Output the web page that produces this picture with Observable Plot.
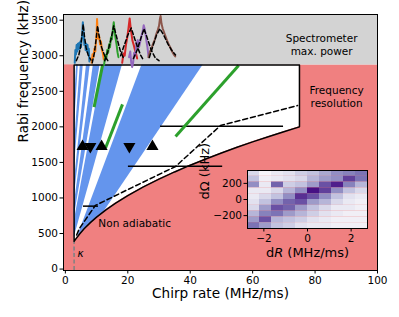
<!DOCTYPE html>
<html><head><meta charset="utf-8">
<script src="https://cdn.jsdelivr.net/npm/d3@7"></script>
<script src="https://cdn.jsdelivr.net/npm/@observablehq/plot@0.6"></script>
<style>
body{margin:0;background:#fff;}
#wrap{position:relative;width:399px;height:317px;}
#wrap svg{position:absolute;left:0;top:0;}
</style></head><body><div id="wrap"></div>
<script>
// ---- data ----
const xTicks = [0, 20, 40, 60, 80, 100];
const yTicks = [0, 500, 1000, 1500, 2000, 2500, 3000, 3500];
const xDomain = [-0.6, 100];
const yDomain = [-20, 3580];
const spectroLimit = 2870;      // spectrometer max power (kHz)
const kappa = 2.8;              // MHz/ms
const maxChirp = 75;            // frequency resolution limit

// adiabaticity boundary
const adiabR = [2.8, 3.5, 4.5, 6, 8, 10, 13, 16, 20, 25, 30, 35, 40, 45, 50, 55, 60, 65, 70, 75];
const adiabOmega = [390, 432, 490, 566, 653, 730, 833, 924, 1033, 1155, 1265, 1366, 1461, 1549, 1633, 1713, 1789, 1862, 1932, 2000];

// dashed limit
const dashR = [3.6, 4.5, 9.6, 21.5, 35.3, 49.7, 74.4];
const dashOmega = [480, 571, 895, 1150, 1443, 2018, 2300];

// blue wedges (slopes Omega/R of the two edges)
const wedgeSlopeL = [800, 600, 425, 320, 236, 117];
const wedgeSlopeR = [690, 500, 360, 258, 157, 65];

// horizontal bars
const barOmega = [885, 1447, 2008];
const barR1 = [5.8, 20.2, 30.5];
const barR2 = [10.6, 50.4, 69.9];

// triangles
const triR = [5.5, 8.0, 11.6, 20.5, 27.9];
const triOmega = [1724, 1724, 1724, 1724, 1724];
const triDir = ["up", "down", "up", "down", "up"];

// green segments
const greenR1 = [11.9, 18.3, 55.5];
const greenO1 = [2864, 2316, 2864];
const greenR2 = [9.2, 12.9, 35.3];
const greenO2 = [2277, 1706, 1864];

// spectra (measured) and fits
const specBlueR = [3.0,3.2,3.4,3.6,3.8,4.0,4.2,4.4,4.6,4.8,5.0,5.2,5.4,5.6,5.75,5.9,6.1,6.3,6.5,6.7,6.9,7.1,7.3,7.5,7.7];
const specBlueO = [2900,3080,3020,3150,3060,3170,3090,3180,3100,3200,3120,3230,3300,3470,3380,3260,3150,3190,3080,3170,3060,3150,3040,3100,2920];
const fitBlueR = [3.5,4.3,4.9,5.3,5.7,6.1,6.6,7.3,8.2];
const fitBlueO = [2930,3010,3130,3280,3440,3280,3120,3010,2940];
const specOrangeR = [8.4,8.7,9.0,9.3,9.6,9.8,10.0,10.15,10.3,10.5,10.8,11.1,11.4,11.7,12.0,12.3];
const specOrangeO = [2900,3020,2980,3100,3060,3200,3300,3515,3380,3240,3280,3160,3200,3080,3040,2950];
const fitOrangeR = [8.6,9.3,9.9,10.3,10.8,11.6,12.6,13.6];
const fitOrangeO = [2900,3040,3250,3420,3280,3120,3000,2930];
const specGreenR = [12.4,12.8,13.1,13.4,13.7,14.0,14.3,14.6,14.9,15.2,15.5,15.8,16.1,16.4,16.7,17.0];
const specGreenO = [2870,3010,2960,3080,3040,3160,3120,3260,3230,3360,3470,3330,3240,3160,3050,2980];
const fitGreenR = [12.6,13.6,14.6,15.5,16.5,17.6,18.8];
const fitGreenO = [2930,3060,3230,3420,3250,3070,2950];
const specRedR = [18.2,18.6,19.0,19.4,19.8,20.2,20.6,20.9,21.2,21.5,21.9,22.3,22.7,23.0];
const specRedO = [2900,3030,3000,3150,3250,3380,3525,3400,3300,3210,3150,3080,3020,2960];
const fitRedR = [17.7,18.8,20.0,21.1,22.2,23.2,24.2,25.0];
const fitRedO = [3000,3140,3290,3390,3240,3110,3000,2940];
const specPurpleR = [20.4,20.8,21.1,21.4,21.7,22.0,22.4,22.8,23.2,23.6,24.0,24.4,24.8,25.1,25.4,25.7,26.0,26.3,26.6];
const specPurpleO = [2980,3060,2900,2840,2900,3040,3000,3180,3220,3120,3200,3280,3350,3430,3380,3300,3200,3120,3000];
const fitPurpleR = [21.8,23.0,24.2,25.2,26.3,27.5,28.8,30.0];
const fitPurpleO = [2960,3080,3250,3380,3240,3080,2970,2930];
const specBrownR = [26.6,27.1,27.6,28.1,28.6,29.1,29.6,30.0,30.3,30.5,30.8,31.2,31.7,32.2,32.7,33.2,33.7,34.2,34.7,35.2];
const specBrownO = [2980,3060,3100,3170,3220,3300,3360,3420,3520,3560,3450,3380,3320,3260,3200,3150,3110,3060,3020,2990];
const fitBrownR = [26.9,28.0,29.2,30.3,31.5,32.8,34.0,35.3];
const fitBrownO = [2976,3130,3290,3380,3290,3170,3080,3010];

// inset heatmap
const dREdges = [-2.75,-2.2,-1.65,-1.1,-0.55,0,0.55,1.1,1.65,2.2,2.75];
const dOmegaEdges = [360,288,216,144,72,0,-72,-144,-216,-288,-360];
const heat = [
  [0.25,0.05,0.15,0.20,0.30,0.35,0.45,0.55,0.60,0.65],
  [0.35,0.10,0.15,0.20,0.25,0.40,0.50,0.55,0.80,0.65],
  [0.55,0.15,0.70,0.30,0.35,0.50,0.75,0.90,0.60,0.40],
  [0.15,0.15,0.25,0.40,0.55,0.95,0.80,0.55,0.35,0.25],
  [0.15,0.25,0.35,0.55,0.85,0.75,0.55,0.35,0.20,0.15],
  [0.20,0.35,0.55,0.70,0.75,0.50,0.40,0.25,0.15,0.10],
  [0.25,0.50,0.75,0.70,0.50,0.35,0.25,0.15,0.15,0.10],
  [0.40,0.60,0.65,0.50,0.40,0.30,0.20,0.15,0.10,0.10],
  [0.50,0.75,0.40,0.35,0.30,0.20,0.15,0.10,0.10,0.10],
  [0.65,0.50,0.35,0.30,0.20,0.15,0.15,0.10,0.10,0.10]
];

// ---- build tables ----
const RED = "#f08080", GRAY = "#d3d3d3", BLUE = "#6495ed", GREEN = "#2ca02c";
const curve = adiabR.map((R, i) => ({R, O: adiabOmega[i]}));
const dashed = dashR.map((R, i) => ({R, O: dashOmega[i]}));
const outline = [{R: kappa, O: adiabOmega[0]}, {R: kappa, O: spectroLimit}, {R: maxChirp, O: spectroLimit}]
  .concat(curve.slice().reverse());
const wedges = wedgeSlopeL.map((sL, i) => ({sL, sR: wedgeSlopeR[i]}));
const bars = barOmega.map((O, i) => ({O, R1: barR1[i], R2: barR2[i]}));
const tris = triR.map((R, i) => ({R, O: triOmega[i], rot: triDir[i] === "up" ? 0 : 180}));
const greens = greenR1.map((R1, i) => ({R1, O1: greenO1[i], R2: greenR2[i], O2: greenO2[i]}));
const spectra = [
  [specBlueR, specBlueO, fitBlueR, fitBlueO, "#1f77b4"],
  [specOrangeR, specOrangeO, fitOrangeR, fitOrangeO, "#ff7f0e"],
  [specGreenR, specGreenO, fitGreenR, fitGreenO, "#2ca02c"],
  [specRedR, specRedO, fitRedR, fitRedO, "#d62728"],
  [specPurpleR, specPurpleO, fitPurpleR, fitPurpleO, "#9467bd"],
  [specBrownR, specBrownO, fitBrownR, fitBrownO, "#8c564b"]
];
const specMarks = [];
for (const [sr, so, fr, fo, c] of spectra) {
  specMarks.push(Plot.line(sr.map((R, i) => ({R, O: so[i]})), {x: "R", y: "O", stroke: c, strokeWidth: 2}));
}
for (const [sr, so, fr, fo, c] of spectra) {
  specMarks.push(Plot.line(fr.map((R, i) => ({R, O: fo[i]})), {x: "R", y: "O", stroke: "black", strokeWidth: 1.5, strokeDasharray: "4,2.5"}));
}

const font = "DejaVu Sans, sans-serif";
const main = Plot.plot({
  width: 399, height: 317,
  marginLeft: 63, marginRight: 22, marginTop: 14, marginBottom: 47,
  style: {fontFamily: font, fontSize: "10.5px", background: "transparent", color: "black"},
  x: {domain: xDomain, ticks: xTicks, tickFormat: "d", tickSize: 3.5, tickPadding: 2.5, label: null},
  y: {domain: yDomain, ticks: yTicks, tickFormat: "d", tickSize: 3.5, tickPadding: 2, label: null},
  marks: [
    Plot.rect([{}], {x1: () => xDomain[0], x2: () => xDomain[1], y1: () => yDomain[0], y2: () => spectroLimit, fill: RED}),
    Plot.rect([{}], {x1: () => xDomain[0], x2: () => xDomain[1], y1: () => spectroLimit, y2: () => yDomain[1], fill: GRAY}),
    Plot.areaY(curve, {x: "R", y1: "O", y2: () => spectroLimit, fill: "white"}),
    ...wedges.map(w => Plot.areaX([0, spectroLimit], {y: d => d, x1: d => d / w.sL, x2: d => d / w.sR, fill: BLUE})),
    Plot.areaY(curve, {x: "R", y1: () => yDomain[0], y2: "O", fill: RED}),
    Plot.rect([{}], {x1: () => xDomain[0], x2: () => kappa, y1: () => yDomain[0], y2: () => spectroLimit, fill: RED}),
    Plot.ruleX([kappa], {y1: yDomain[0], y2: adiabOmega[0], stroke: "#808080", strokeWidth: 1.5, strokeDasharray: "4,2.5"}),
    Plot.line(dashed, {x: "R", y: "O", stroke: "black", strokeWidth: 1.5, strokeDasharray: "5,3"}),
    Plot.ruleY(bars, {y: "O", x1: "R1", x2: "R2", stroke: "black", strokeWidth: 1.5}),
    Plot.link(greens, {x1: "R1", y1: "O1", x2: "R2", y2: "O2", stroke: GREEN, strokeWidth: 3}),
    Plot.line(outline, {x: "R", y: "O", stroke: "black", strokeWidth: 1.5}),
    Plot.dot(tris, {x: "R", y: "O", symbol: "triangle", r: 4.5, fill: "black", rotate: "rot"}),
    ...specMarks,
    Plot.text(["Spectrometer\nmax. power"], {x: 82.1, y: 3160, fontSize: 10.5, lineHeight: 1.25}),
    Plot.text(["Frequency\nresolution"], {x: 86.9, y: 2430, fontSize: 10.5, lineHeight: 1.25}),
    Plot.text(["Non adiabatic"], {x: 22.2, y: 641, fontSize: 10.5}),
    Plot.text(["κ"], {x: 3.9, y: 219, fontSize: 10.5, fontStyle: "italic", textAnchor: "start"}),
    Plot.text(["Chirp rate (MHz/ms)"], {frameAnchor: "bottom", dy: 27, fontSize: 13.6}),
    Plot.text(["Rabi frequency (kHz)"], {frameAnchor: "left", dx: -40, rotate: -90, fontSize: 13.6}),
    Plot.frame({stroke: "black", strokeWidth: 1})
  ]
});
document.getElementById("wrap").appendChild(main);

// ---- inset ----
const cells = [];
heat.forEach((row, j) => row.forEach((v, i) => cells.push({x1: dREdges[i], x2: dREdges[i + 1], y1: dOmegaEdges[j + 1], y2: dOmegaEdges[j], v})));
const inset = Plot.plot({
  width: 170, height: 105,
  marginLeft: 42, marginRight: 8, marginTop: 5, marginBottom: 42,
  style: {fontFamily: font, fontSize: "10.5px", background: "transparent", color: "black", overflow: "visible"},
  x: {domain: [-2.75, 2.75], ticks: [-2, 0, 2], tickFormat: "d", tickSize: 3.5, tickPadding: 2.5, label: null},
  y: {domain: [-360, 360], ticks: [-200, 0, 200], tickFormat: "d", tickSize: 3.5, tickPadding: 2, label: null},
  color: {type: "linear", scheme: "purples", domain: [0, 1]},
  marks: [
    Plot.rect(cells, {x1: "x1", x2: "x2", y1: "y1", y2: "y2", fill: "v"}),
    Plot.text(["dR (MHz/ms)"], {frameAnchor: "bottom", dy: 28, fontSize: 13}),
    Plot.text(["dΩ (kHz)"], {frameAnchor: "left", dx: -43, rotate: -90, fontSize: 13}),
    Plot.frame({stroke: "black", strokeWidth: 1})
  ]
});
inset.style.left = "205px";
inset.style.top = "165px";
document.getElementById("wrap").appendChild(inset);
// italic R in the inset label
d3.select(inset).selectAll("text").filter(function () { return this.textContent === "dR (MHz/ms)"; })
  .each(function () {
    const t = d3.select(this);
    t.text(null);
    t.append("tspan").text("d");
    t.append("tspan").attr("font-style", "italic").text("R");
    t.append("tspan").text(" (MHz/ms)");
  });
</script></body></html>
